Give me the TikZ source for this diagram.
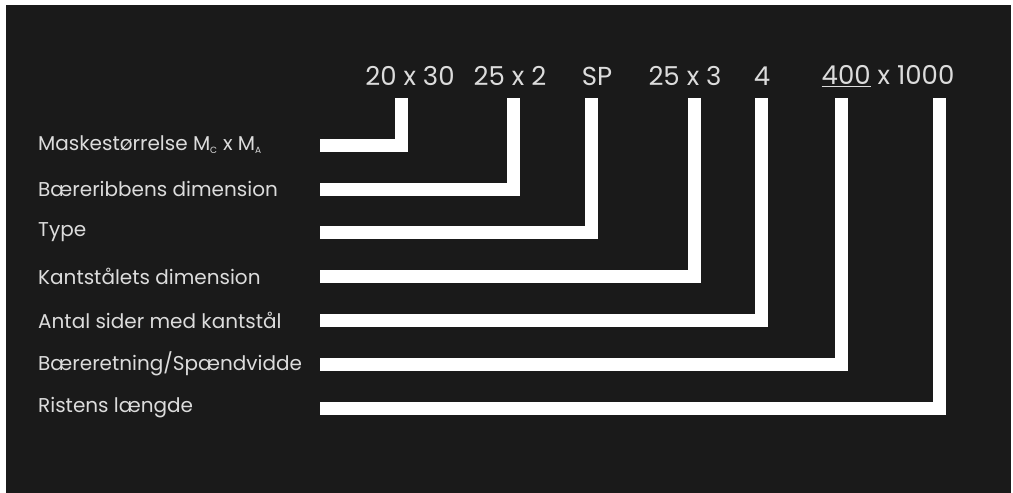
\documentclass[tikz,border=0pt]{standalone}
\usepackage{fontspec}
\setmainfont{Poppins}
\begin{document}
\begin{tikzpicture}[x=1pt,y=-1pt,
  bar/.style={draw=white,line width=13pt,line join=miter,line cap=butt},
  lbl/.style={anchor=west,inner sep=0pt,text=labelgray,font=\fontsize{20}{22}\selectfont},
  toplbl/.style={anchor=center,inner sep=0pt,text=labelgray,font=\fontsize{26}{30}\selectfont}]
\definecolor{bgdark}{HTML}{1A1A1A}
\definecolor{labelgray}{HTML}{DCDCDC}
\useasboundingbox (0,0) rectangle (1013,493);
\fill[white] (0,0) rectangle (1013,493);
\fill[bgdark] (6,5) rectangle (1011,493);
% left labels
\node[lbl] (l1) at (38,145) {Maskestørrelse M\textsubscript{\fontsize{9}{10}\selectfont C} x M\textsubscript{\fontsize{9}{10}\selectfont A}};
\node[lbl] (l2) at (38,189) {Bæreribbens dimension};
\node[lbl] (l3) at (38,232) {Type};
\node[lbl] (l4) at (38,276) {Kantstålets dimension};
\node[lbl] (l5) at (38,320) {Antal sider med kantstål};
\node[lbl] (l6) at (38,364) {Bæreretning/Spændvidde};
\node[lbl] (l7) at (38,408) {Ristens længde};
% top labels
\node[toplbl] (t1) at (410,76) {20 x 30};
\node[toplbl] (t2) at (510,76) {25 x 2};
\node[toplbl] (t3) at (597,76) {SP};
\node[toplbl] (t4) at (685,76) {25 x 3};
\node[toplbl] (t5) at (762,76) {4};
\node[toplbl] (t6) at (888,76) {\underline{400} x 1000};
% bar ends
\foreach \i/\yy/\xx in {1/145/401.5,2/189/513.5,3/232/591.5,4/276/694,5/320/761,6/364/841,7/408/939.5}{
  \coordinate (s\i) at (320,\yy);
  \coordinate (e\i) at (\xx,98);
}
\foreach \i in {1,...,7}{
  \draw[bar] (s\i) -| (e\i);
}
\end{tikzpicture}
\end{document}
